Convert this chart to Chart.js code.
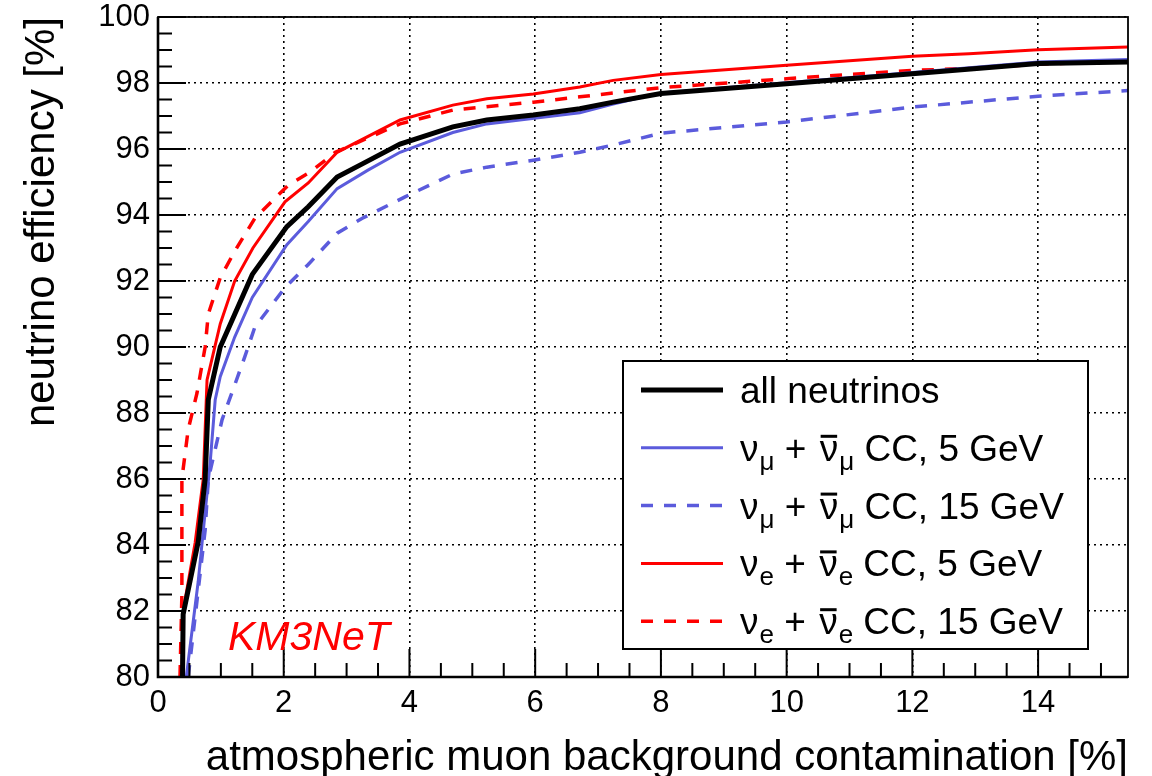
<!DOCTYPE html>
<html>
<head>
<meta charset="utf-8">
<script src="https://cdn.jsdelivr.net/npm/chart.js@4.4.0/dist/chart.umd.min.js"></script>
<style>
  html, body { margin: 0; padding: 0; background: #fff; }
  #wrap { width: 1152px; height: 776px; }
</style>
</head>
<body>
<div id="wrap"><canvas id="effChart" width="1152" height="776"></canvas></div>
<script>
// atmospheric muon contamination [%] vs neutrino efficiency [%]
const allX = [0.39, 0.40, 0.64, 0.75, 0.80, 0.99, 1.50, 2.05, 2.39, 2.85, 3.25, 3.85, 4.69, 5.23, 5.97, 6.71, 7.24, 8.0, 10.0, 12.0, 14.0, 15.43];
const allY = [80.0, 81.9, 84.1, 86.0, 88.4, 90.0, 92.2, 93.65, 94.25, 95.15, 95.55, 96.15, 96.67, 96.88, 97.03, 97.22, 97.42, 97.68, 97.98, 98.28, 98.59, 98.64];

const numu5X = [0.45, 0.64, 0.75, 0.83, 0.91, 0.99, 1.22, 1.50, 2.05, 2.39, 2.85, 3.34, 3.85, 4.69, 5.23, 6.71, 7.24, 8.0, 10.0, 12.0, 14.0, 15.43];
const numu5Y = [80.0, 82.9, 85.0, 86.5, 88.4, 89.1, 90.3, 91.5, 93.1, 93.8, 94.8, 95.36, 95.9, 96.5, 96.76, 97.1, 97.36, 97.7, 98.01, 98.32, 98.64, 98.71];

const numu15X = [0.48, 0.75, 0.80, 1.02, 1.23, 1.38, 1.54, 2.02, 2.39, 2.85, 3.25, 3.93, 4.69, 5.23, 5.97, 6.71, 7.24, 8.0, 10.0, 12.0, 14.0, 15.43];
const numu15Y = [80.0, 84.45, 86.0, 87.8, 88.9, 89.7, 90.6, 91.8, 92.5, 93.45, 93.9, 94.55, 95.24, 95.45, 95.66, 95.9, 96.12, 96.48, 96.82, 97.27, 97.6, 97.77];

const nue5X = [0.38, 0.40, 0.59, 0.72, 0.78, 0.99, 1.22, 1.51, 2.02, 2.39, 2.85, 3.85, 4.69, 5.23, 5.97, 6.71, 7.24, 8.0, 10.0, 12.0, 12.9, 14.0, 15.43];
const nue5Y = [80.0, 82.0, 84.06, 86.0, 89.0, 90.7, 92.0, 93.0, 94.4, 94.97, 95.9, 96.88, 97.33, 97.52, 97.67, 97.88, 98.08, 98.26, 98.54, 98.81, 98.89, 99.01, 99.09];

const nue15X = [0.35, 0.38, 0.38, 0.48, 0.62, 0.75, 0.80, 0.99, 1.22, 1.54, 2.07, 2.42, 2.82, 3.85, 4.69, 5.97, 6.71, 8.0, 10.0, 12.0, 13.0, 14.0, 15.43];
const nue15Y = [80.0, 82.5, 86.0, 87.5, 88.6, 90.0, 91.0, 92.1, 92.9, 93.9, 94.9, 95.3, 95.9, 96.76, 97.18, 97.42, 97.58, 97.86, 98.13, 98.38, 98.45, 98.57, 98.66];

const seriesFlavor = [null, 'μ', 'μ', 'e', 'e'];
const seriesEnergy = [null, '5 GeV', '15 GeV', '5 GeV', '15 GeV'];
const xTitle = 'atmospheric muon background contamination [%]';
const yTitle = 'neutrino efficiency [%]';
const experiment = 'KM3NeT';

const BLUE = '#5b5bdc';
const RED = '#ff0000';
const FONT = "'Liberation Sans', Arial, Helvetica, sans-serif";

function pts(xs, ys) {
    return xs.map((v, i) => ({ x: v, y: ys[i] }));
}

function lineSet(label, xs, ys, color, width, dash) {
    return {
        label: label,
        data: pts(xs, ys),
        borderColor: color,
        borderWidth: width,
        borderDash: dash || [],
        showLine: true,
        pointRadius: 0,
        tension: 0,
        fill: false
    };
}

// black first so it is drawn on top
const datasets = [
    lineSet('all neutrinos', allX, allY, '#000', 5),
    lineSet('numu 5 GeV', numu5X, numu5Y, BLUE, 3),
    lineSet('numu 15 GeV', numu15X, numu15Y, BLUE, 3.5, [12, 11]),
    lineSet('nue 5 GeV', nue5X, nue5Y, RED, 3),
    lineSet('nue 15 GeV', nue15X, nue15Y, RED, 3.5, [12, 11])
];

// ROOT style frame + inward ticks
const framePlugin = {
    id: 'framePlugin',
    afterDatasetsDraw(chart) {
        const { ctx, chartArea: a, scales: { x, y } } = chart;
        ctx.save();
        ctx.strokeStyle = '#000';
        ctx.lineWidth = 2;
        ctx.beginPath();
        for (let v = 0; v <= x.max + 1e-9; v += 0.5) {
            const px = x.getPixelForValue(v);
            const len = Math.round(v * 2) % 4 === 0 ? 28 : 14;
            ctx.moveTo(px, a.bottom);
            ctx.lineTo(px, a.bottom - len);
        }
        for (let v = y.min; v <= y.max + 1e-9; v += 0.5) {
            const py = y.getPixelForValue(v);
            const len = Math.round(v * 2) % 4 === 0 ? 28 : 14;
            ctx.moveTo(a.left, py);
            ctx.lineTo(a.left + len, py);
        }
        ctx.stroke();

        ctx.lineWidth = 1.8;
        ctx.strokeRect(a.left, a.top, a.right - a.left, a.bottom - a.top);
        ctx.lineWidth = 2.6;
        ctx.beginPath();
        ctx.moveTo(a.left, a.top);
        ctx.lineTo(a.left, a.bottom);
        ctx.lineTo(a.right, a.bottom);
        ctx.stroke();

        // experiment tag
        ctx.fillStyle = RED;
        ctx.font = 'italic 41px ' + FONT;
        ctx.textBaseline = 'alphabetic';
        ctx.fillText(experiment, a.left + 70, a.bottom - 27);
        ctx.restore();
    }
};

function drawNuLabel(ctx, x, y, flavor, energy) {
    const big = '37px ' + FONT;
    const small = '26px ' + FONT;
    ctx.font = big;
    ctx.fillText('ν', x, y);
    x += ctx.measureText('ν').width + 1;
    ctx.font = small;
    ctx.fillText(flavor, x, y + 9);
    x += ctx.measureText(flavor).width;
    ctx.font = big;
    ctx.fillText(' + ', x, y);
    x += ctx.measureText(' + ').width + 3;
    const nw = ctx.measureText('ν').width;
    ctx.fillText('ν', x, y);
    ctx.fillRect(x + 1, y - 26, nw - 2, 3);
    x += nw + 1;
    ctx.font = small;
    ctx.fillText(flavor, x, y + 9);
    x += ctx.measureText(flavor).width;
    ctx.font = big;
    ctx.fillText(' CC, ' + energy, x, y);
}

const legendPlugin = {
    id: 'rootLegend',
    afterDraw(chart) {
        const { ctx, chartArea: a } = chart;
        const bx = a.left + 465, by = a.top + 344;
        const bw = 465, bh = 288;
        ctx.save();
        ctx.fillStyle = '#fff';
        ctx.fillRect(bx, by, bw, bh);
        ctx.strokeStyle = '#000';
        ctx.lineWidth = 2;
        ctx.strokeRect(bx, by, bw, bh);

        chart.data.datasets.forEach((ds, i) => {
            const cy = by + 29 + i * 57.8;
            ctx.strokeStyle = ds.borderColor;
            ctx.lineWidth = ds.borderWidth;
            ctx.setLineDash(ds.borderDash);
            ctx.beginPath();
            ctx.moveTo(bx + 18, cy);
            ctx.lineTo(bx + 100, cy);
            ctx.stroke();
            ctx.setLineDash([]);

            ctx.fillStyle = '#000';
            ctx.textBaseline = 'alphabetic';
            ctx.textAlign = 'left';
            if (seriesFlavor[i]) {
                drawNuLabel(ctx, bx + 117, cy + 13, seriesFlavor[i], seriesEnergy[i]);
            } else {
                ctx.font = '37px ' + FONT;
                ctx.fillText(ds.label, bx + 117, cy + 13);
            }
        });
        ctx.restore();
    }
};

new Chart(document.getElementById('effChart'), {
    type: 'scatter',
    data: { datasets: datasets },
    options: {
        responsive: false,
        animation: false,
        devicePixelRatio: 1,
        layout: { padding: { top: 17, right: 24, left: 0, bottom: 0 } },
        plugins: {
            legend: { display: false },
            tooltip: { enabled: false }
        },
        scales: {
            x: {
                type: 'linear',
                position: 'bottom',
                min: 0,
                max: 15.43,
                ticks: {
                    stepSize: 2,
                    includeBounds: false,
                    maxRotation: 0,
                    autoSkip: false,
                    padding: 8,
                    color: '#000',
                    font: { family: FONT, size: 31 }
                },
                grid: { color: '#000', lineWidth: 1.6, drawTicks: false },
                border: { display: false, dash: [2, 4] },
                title: {
                    display: true,
                    text: xTitle,
                    align: 'end',
                    color: '#000',
                    font: { family: FONT, size: 42, lineHeight: 0.85 },
                    padding: { top: 0, bottom: 0 }
                },
                afterFit(scale) {
                    scale.height = 99;
                    scale.paddingLeft = 0;
                    scale.paddingRight = 0;
                }
            },
            y: {
                type: 'linear',
                min: 80,
                max: 100,
                ticks: {
                    stepSize: 2,
                    padding: 8,
                    color: '#000',
                    font: { family: FONT, size: 31 }
                },
                grid: { color: '#000', lineWidth: 1.6, drawTicks: false },
                border: { display: false, dash: [2, 4] },
                title: {
                    display: true,
                    text: yTitle,
                    align: 'end',
                    color: '#000',
                    font: { family: FONT, size: 42 },
                    padding: { top: 17, bottom: 0 }
                },
                afterFit(scale) {
                    scale.width = 158;
                    scale.paddingTop = 0;
                    scale.paddingBottom = 0;
                }
            }
        }
    },
    plugins: [framePlugin, legendPlugin]
});
</script>
</body>
</html>
